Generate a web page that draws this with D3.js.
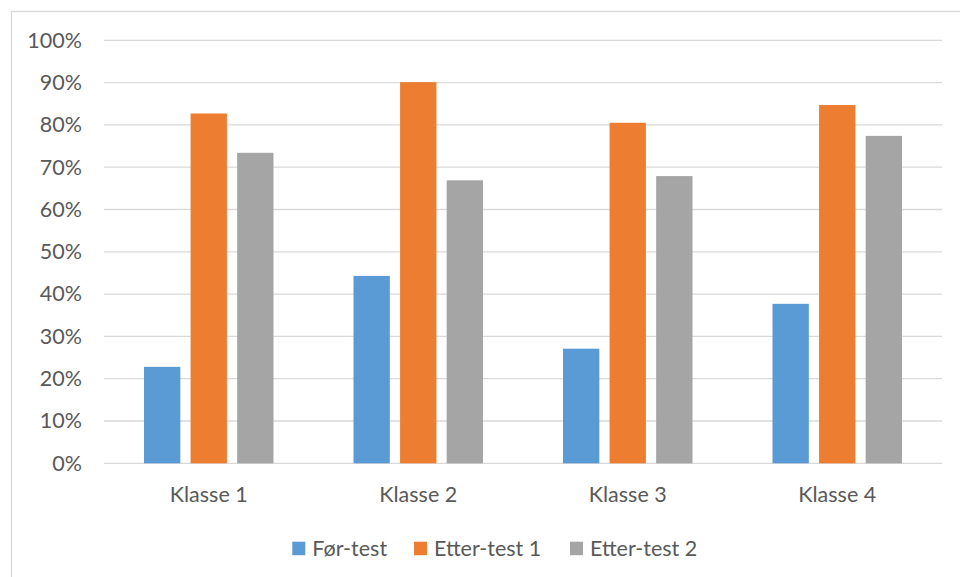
<!DOCTYPE html>
<html>
<head>
<meta charset="utf-8">
<script src="https://cdn.jsdelivr.net/npm/d3@7/dist/d3.min.js"></script>
<style>
  html, body { margin: 0; padding: 0; background: #fff; }
  svg { display: block; }
  text { font-family: Lato, "Open Sans", sans-serif; fill: #595959; }
</style>
</head>
<body>
<svg id="chart" width="960" height="577"></svg>
<script>
// Class names along the x axis
const categories = ["Klasse 1", "Klasse 2", "Klasse 3", "Klasse 4"];
// Test series (share of correct answers)
const seriesNames = ["Før-test", "Etter-test 1", "Etter-test 2"];
const forTest = [0.228, 0.443, 0.271, 0.377];
const etterTest1 = [0.827, 0.901, 0.805, 0.847];
const etterTest2 = [0.734, 0.669, 0.679, 0.774];
// Y axis ticks
const yTicks = [0, 0.1, 0.2, 0.3, 0.4, 0.5, 0.6, 0.7, 0.8, 0.9, 1.0];
const colors = ["#5B9BD5", "#ED7D31", "#A5A5A5"];

const seriesValues = [forTest, etterTest1, etterTest2];
const fontSize = 21.5;

const svg = d3.select("#chart");

// Outer chart frame
svg.append("rect")
  .attr("x", 11.5).attr("y", 11.5)
  .attr("width", 960).attr("height", 580)
  .attr("fill", "none").attr("stroke", "#D9D9D9").attr("stroke-width", 1.3);

const plot = { left: 104, right: 942, top: 40.3, bottom: 463.3 };

const y = d3.scaleLinear().domain([0, 1]).range([plot.bottom, plot.top]);
const x0 = d3.scaleBand().domain(categories).range([plot.left, plot.right]).padding(0);
const groupInset = 40;
const x1 = d3.scaleBand().domain(seriesNames)
  .range([groupInset, x0.bandwidth() - groupInset])
  .paddingInner(0.22).paddingOuter(0);

// Horizontal gridlines
svg.append("g").selectAll("line").data(yTicks).join("line")
  .attr("x1", plot.left).attr("x2", plot.right)
  .attr("y1", d => y(d)).attr("y2", d => y(d))
  .attr("stroke", "#D9D9D9").attr("stroke-width", 1.3);

// Y axis labels
const yAxis = d3.axisLeft(y).tickValues(yTicks).tickFormat(d3.format(".0%")).tickSize(0).tickPadding(0);
const yg = svg.append("g").attr("transform", `translate(82,0)`).call(yAxis);
yg.select(".domain").remove();
yg.selectAll("text").attr("font-size", fontSize).attr("fill", "#595959")
  .style("font-family", "Lato, 'Open Sans', sans-serif");

// Bars
const groups = svg.append("g").selectAll("g").data(categories).join("g")
  .attr("transform", d => `translate(${x0(d)},0)`);
groups.selectAll("rect")
  .data((c, i) => seriesNames.map((s, j) => ({ s, v: seriesValues[j][i], j })))
  .join("rect")
  .attr("x", d => x1(d.s))
  .attr("width", x1.bandwidth())
  .attr("y", d => y(d.v))
  .attr("height", d => y(0) - y(d.v))
  .attr("fill", d => colors[d.j]);

// X axis labels
const xAxis = d3.axisBottom(x0).tickSize(0).tickPadding(0);
const xg = svg.append("g").attr("transform", `translate(0,${plot.bottom + 23})`).call(xAxis);
xg.select(".domain").remove();
xg.selectAll("text").attr("font-size", fontSize).attr("fill", "#595959")
  .style("font-family", "Lato, 'Open Sans', sans-serif");

// Legend
const legendX = [292.3, 414, 570];
const legend = svg.append("g").selectAll("g").data(seriesNames).join("g")
  .attr("transform", (d, i) => `translate(${legendX[i]},541.7)`);
legend.append("rect").attr("width", 13).attr("height", 13.5)
  .attr("fill", (d, i) => colors[i]);
legend.append("text").attr("x", 20).attr("y", 14)
  .attr("font-size", fontSize).text(d => d);
</script>
</body>
</html>
